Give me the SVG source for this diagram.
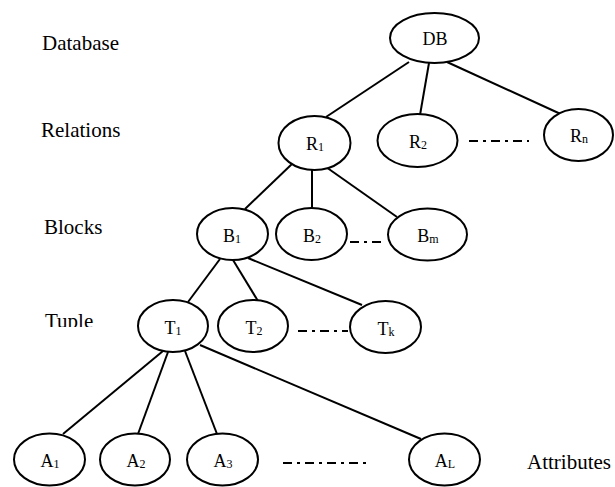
<svg xmlns="http://www.w3.org/2000/svg" width="615" height="487" viewBox="0 0 615 487">
<style>
.n{fill:#fff;stroke:#000;stroke-width:2}
.c line{stroke:#000;stroke-width:2}
.d{stroke:#000;stroke-width:2;stroke-dasharray:9 5 3 5}
text{font-family:'Liberation Serif','Times New Roman',Times,serif;fill:#000}
.t{font-size:18px;text-anchor:middle}
.s{font-size:12px}
.lv{font-size:21px}
</style>
<defs><clipPath id="tc"><rect x="0" y="300" width="120" height="27"/></clipPath></defs>
<rect width="615" height="487" fill="#fff"/>
<g id="levels">
<text class="lv" x="42" y="50">Database</text>
<text class="lv" x="41" y="137">Relations</text>
<text class="lv" x="44" y="234">Blocks</text>
<text class="lv" x="45" y="328" clip-path="url(#tc)">Tuple</text>
<text class="lv" x="527" y="469">Attributes</text>
</g>
<g id="connectors" class="c">
<line x1="409" y1="62" x2="326" y2="117"/>
<line x1="429" y1="63" x2="420" y2="115"/>
<line x1="447" y1="62" x2="565" y2="116"/>
<line x1="293" y1="163" x2="245" y2="209"/>
<line x1="312" y1="169" x2="312" y2="208"/>
<line x1="326" y1="167" x2="397" y2="217"/>
<line x1="220" y1="259" x2="188" y2="302"/>
<line x1="233" y1="260" x2="258" y2="301"/>
<line x1="248" y1="258" x2="362" y2="305"/>
<line x1="163" y1="351" x2="63" y2="434"/>
<line x1="168" y1="352" x2="138" y2="434"/>
<line x1="185" y1="351" x2="217" y2="434"/>
<line x1="200" y1="345" x2="421" y2="439"/>
<line class="d" x1="469" y1="141" x2="529" y2="141"/>
<line class="d" x1="350" y1="242" x2="381" y2="242"/>
<line class="d" x1="298" y1="331" x2="348" y2="331"/>
<line class="d" x1="283" y1="463" x2="367" y2="463"/>
</g>
<g id="DB"><ellipse class="n" cx="434.5" cy="38" rx="44.5" ry="25"/><text class="t" x="435" y="45">DB</text></g>
<g id="R1"><ellipse class="n" cx="314.5" cy="143" rx="36" ry="27"/><text class="t" x="315" y="150">R<tspan class="s" dy="1">1</tspan></text></g>
<g id="R2"><ellipse class="n" cx="417.5" cy="140.5" rx="40" ry="26.5"/><text class="t" x="418" y="148">R<tspan class="s" dy="1">2</tspan></text></g>
<g id="Rn"><ellipse class="n" cx="578.5" cy="135" rx="34.5" ry="26"/><text class="t" x="579" y="142">R<tspan class="s" dy="1">n</tspan></text></g>
<g id="B1"><ellipse class="n" cx="232.5" cy="234" rx="35.5" ry="26"/><text class="t" x="232" y="242">B<tspan class="s" dy="1">1</tspan></text></g>
<g id="B2"><ellipse class="n" cx="311.5" cy="234" rx="35.5" ry="26"/><text class="t" x="312" y="242">B<tspan class="s" dy="1">2</tspan></text></g>
<g id="Bm"><ellipse class="n" cx="427.5" cy="234.5" rx="39.5" ry="26"/><text class="t" x="428" y="242">B<tspan class="s" dy="1">m</tspan></text></g>
<g id="T1"><ellipse class="n" cx="173" cy="326" rx="35" ry="26"/><text class="t" x="173" y="334">T<tspan class="s" dy="1">1</tspan></text></g>
<g id="T2"><ellipse class="n" cx="253" cy="326" rx="35" ry="26"/><text class="t" x="254" y="334">T<tspan class="s" dy="1">2</tspan></text></g>
<g id="Tk"><ellipse class="n" cx="385.5" cy="327" rx="35.5" ry="26"/><text class="t" x="386" y="335">T<tspan class="s" dy="1">k</tspan></text></g>
<g id="A1"><ellipse class="n" cx="49.5" cy="459.5" rx="35.5" ry="26"/><text class="t" x="50" y="467">A<tspan class="s" dy="1">1</tspan></text></g>
<g id="A2"><ellipse class="n" cx="135" cy="459.5" rx="35" ry="26"/><text class="t" x="136" y="467">A<tspan class="s" dy="1">2</tspan></text></g>
<g id="A3"><ellipse class="n" cx="222.5" cy="459.5" rx="35.5" ry="26"/><text class="t" x="223" y="467">A<tspan class="s" dy="1">3</tspan></text></g>
<g id="AL"><ellipse class="n" cx="444.5" cy="459.5" rx="35.5" ry="26"/><text class="t" x="445" y="467">A<tspan class="s" dy="1">L</tspan></text></g>
</svg>
